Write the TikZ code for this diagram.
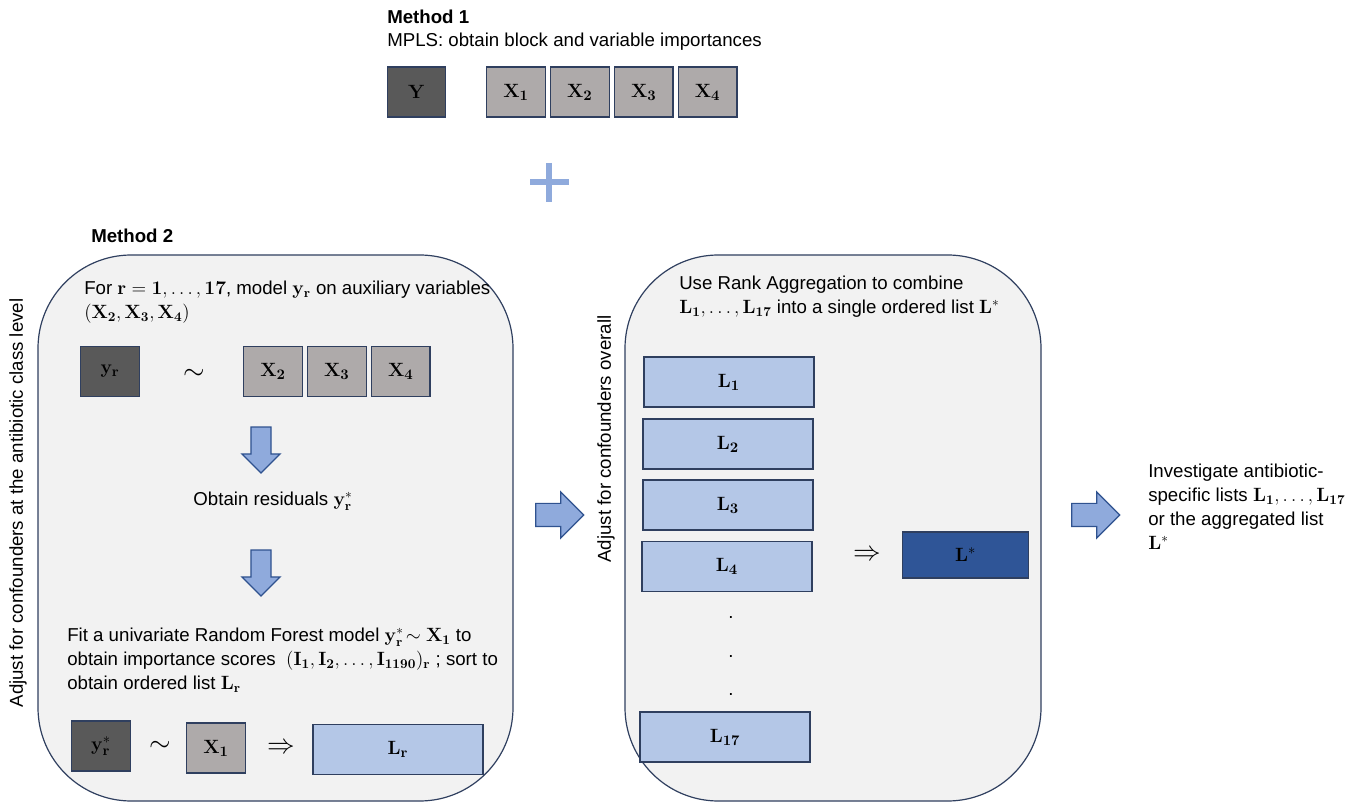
\documentclass[tikz,border=0pt]{standalone}
\usepackage{amsmath}
\usepackage[no-math]{fontspec}
\setmainfont{Liberation Sans}
\usetikzlibrary{positioning,shapes.arrows}

\definecolor{edgeblue}{HTML}{2F3F5F}
\definecolor{panelgray}{HTML}{F2F2F2}
\definecolor{darkbox}{HTML}{595959}
\definecolor{lightbox}{HTML}{AEAAAA}
\definecolor{listblue}{HTML}{B4C7E7}
\definecolor{aggblue}{HTML}{2F5597}
\definecolor{arrowblue}{HTML}{8FAADC}
\definecolor{arrowedge}{HTML}{2F528F}

\begin{document}
\begin{tikzpicture}[x=0.75pt, y=-0.75pt, >=latex,
    txt/.style={font=\fontsize{14}{18}\selectfont, inner sep=0pt},
    bold/.style={font=\fontsize{14}{18}\selectfont\bfseries, inner sep=0pt},
    big/.style={font=\fontsize{21}{21}\selectfont, inner sep=0pt},
    box/.style={draw=edgeblue, line width=0.9pt, inner sep=0pt, minimum width=44pt, minimum height=37.5pt, font=\fontsize{15}{17}\selectfont},
    ybox/.style={box, fill=darkbox},
    xbox/.style={box, fill=lightbox},
    listbox/.style={box, fill=listblue, minimum width=127.5pt},
    aggbox/.style={box, fill=aggblue, minimum width=95pt, minimum height=34.5pt},
    downarrow/.style={single arrow, rotate=-90, draw=arrowedge, fill=arrowblue, line width=0.9pt, inner sep=7.1pt, minimum height=34.5pt, single arrow head extend=6.75pt},
    rightarrow/.style={single arrow, draw=arrowedge, fill=arrowblue, line width=0.9pt, inner sep=8.25pt, minimum height=36pt, single arrow head extend=8.6pt},
    panel/.style={draw=edgeblue, fill=panelgray, line width=0.9pt, rounded corners=70pt}]

    % 1. Page size
    \useasboundingbox (0,0) rectangle (1354,805);

    % 2. Method 1: blocks
    \node[bold, anchor=base west] (mone) at (387,24) {Method 1};
    \node[txt, anchor=base west] (mpls) at (387,47) {MPLS: obtain block and variable importances};
    \node[ybox] (Y) at (416.5,92) {$\mathbf{Y}$};
    \node[xbox] (X1) at (516,92) {$\mathbf{X_1}$};
    \node[xbox, right=3pt of X1] (X2) {$\mathbf{X_2}$};
    \node[xbox, right=3pt of X2] (X3) {$\mathbf{X_3}$};
    \node[xbox, right=3pt of X3] (X4) {$\mathbf{X_4}$};

    % 3. Plus sign
    \draw[arrowblue, line width=4.5pt] (530,182) -- (569,182) (549,163) -- (549,202);

    % 4. The two rounded panels
    \draw[panel] (38,255) rectangle (513,801);
    \draw[panel] (625,255) rectangle (1041,801);

    % 5. Side labels
    \node[txt, rotate=90] (lvlone) at (18,503) {Adjust for confounders at the antibiotic class level};
    \node[txt, rotate=90] (lvltwo) at (606,439) {Adjust for confounders overall};

    % 6. Method 2: residuals and random forest
    \node[bold, anchor=base west] (mtwo) at (91,243) {Method 2};
    \node[txt, anchor=west, align=left] (fortxt) at (84,302)
        {For $\mathbf{r}=\mathbf{1},\dots,\mathbf{17}$, model $\mathbf{y_r}$ on auxiliary variables\\
         $\mathbf{(X_2, X_3, X_4)}$};
    \node[ybox] (yr) at (110,371.5) {$\mathbf{y_r}$};
    \node[big] (tildeone) at (194,374) {$\sim$};
    \node[xbox] (Xa) at (273,371.5) {$\mathbf{X_2}$};
    \node[xbox, right=3pt of Xa] (Xb) {$\mathbf{X_3}$};
    \node[xbox, right=3pt of Xb] (Xc) {$\mathbf{X_4}$};

    \node[downarrow] (downone) at (261,445) {};
    \node[txt] (resid) at (273,501) {Obtain residuals $\mathbf{y_r^*}$};
    \node[downarrow] (downtwo) at (261,568) {};

    \node[txt, anchor=west, align=left] (fittxt) at (67,660)
        {Fit a univariate Random Forest model $\mathbf{y_r^*}\!\sim\mathbf{X_1}$ to\\
         obtain importance scores \ $\mathbf{(I_1, I_2,}\dots\mathbf{, I_{1190})_r}$ ; sort to\\
         obtain ordered list $\mathbf{L_r}$};
    \node[ybox] (yrs) at (101,746) {$\mathbf{y_r^*}$};
    \node[big] (tildetwo) at (160,746) {$\sim$};
    \node[xbox] (Xone) at (216,748) {$\mathbf{X_1}$};
    \node[big] (impone) at (281,748) {$\Rightarrow$};
    \node[listbox] (Lr) at (398,749.5) {$\mathbf{L_r}$};

    % 7. Arrows between panels
    \node[rightarrow] (rightone) at (554,515) {};
    \node[rightarrow] (righttwo) at (1090,515) {};

    % 8. Rank aggregation panel
    \node[txt, anchor=west, align=left] (ranktxt) at (679,297)
        {Use Rank Aggregation to combine\\
         $\mathbf{L_1,}\dots\mathbf{, L_{17}}$ into a single ordered list $\mathbf{L^*}$};
    \node[listbox] (Lone) at (729,382) {$\mathbf{L_1}$};
    \node[listbox] (Ltwo) at (728,444) {$\mathbf{L_2}$};
    \node[listbox] (Lthree) at (728,505) {$\mathbf{L_3}$};
    \node[listbox] (Lfour) at (727,566.5) {$\mathbf{L_4}$};
    \foreach \y/\n in {618/a,657/b,695/c}
        \node[txt] (dot\n) at (731,\y) {.};
    \node[listbox] (Lseventeen) at (725,737) {$\mathbf{L_{17}}$};
    \node[big] (imptwo) at (867,555) {$\Rightarrow$};
    \node[aggbox] (Lstar) at (965.5,555) {$\mathbf{L^*}$};

    % 9. Final step
    \node[txt, anchor=west, align=left] (invtxt) at (1148,507)
        {Investigate antibiotic-\\
         specific lists $\mathbf{L_1,}\dots\mathbf{, L_{17}}$\\
         or the aggregated list\\
         $\mathbf{L^*}$};
\end{tikzpicture}
\end{document}
